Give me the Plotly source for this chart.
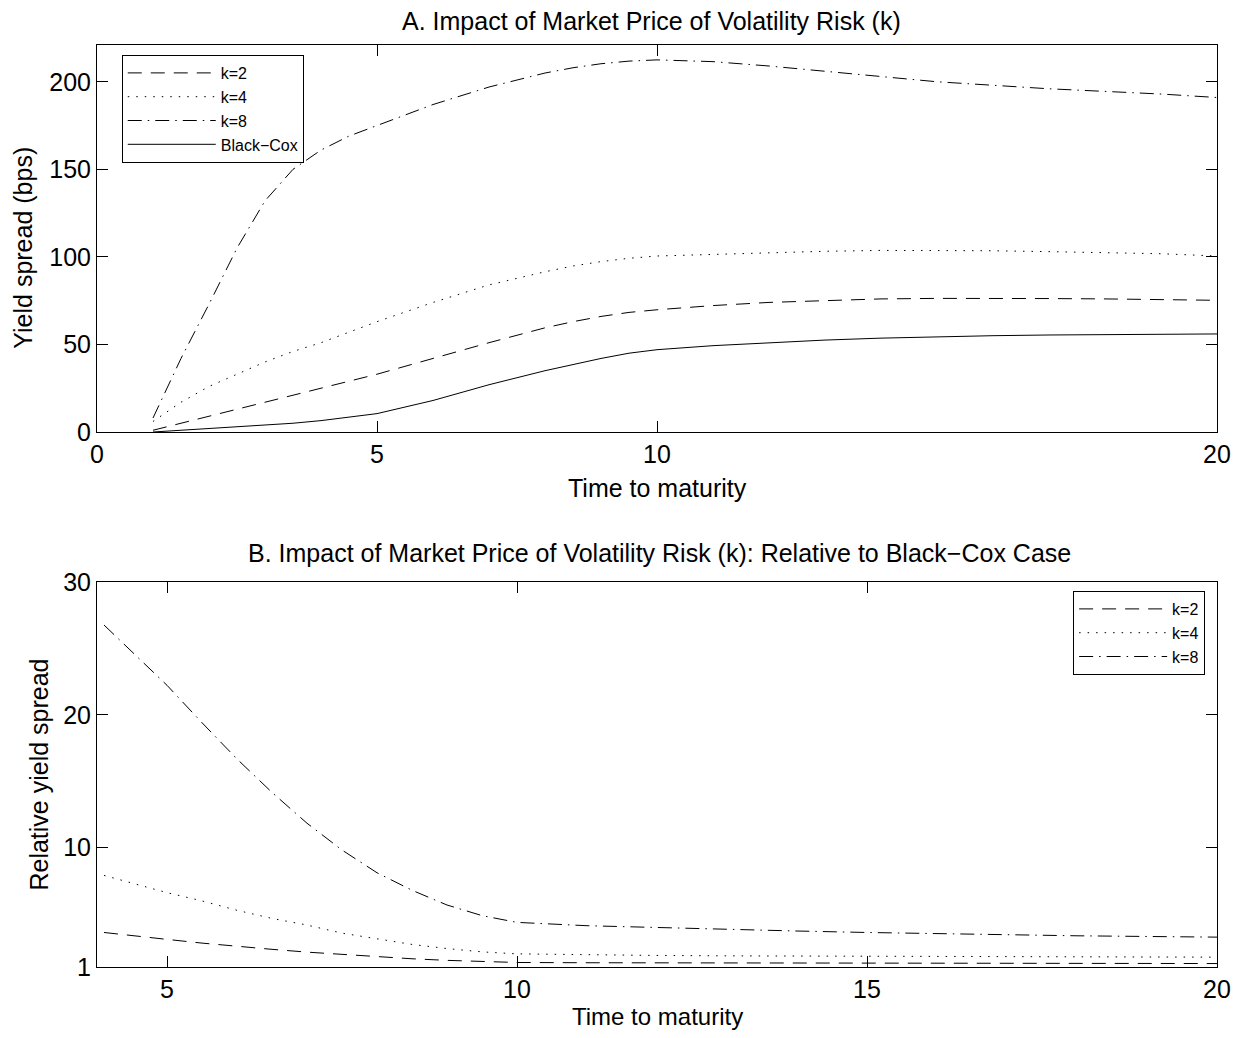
import plotly.graph_objects as go

# ---------- Panel A data (yield spread, bps) ----------
t_a = [1, 1.5, 2, 2.5, 3, 3.5, 4, 4.5, 5, 6, 7, 8, 8.5, 9, 9.5, 10, 11, 12, 13, 14, 15, 16, 17, 18, 19, 20]
a_k2 = [1, 5, 9, 13, 17, 21, 25, 29, 33, 42, 51, 59.5, 63, 66, 68.3, 69.8, 72.2, 74, 75.2, 76, 76.3, 76.4, 76.2, 76, 75.6, 75.2]
a_k4 = [6, 17, 26, 33, 40, 46, 51, 57, 63, 74, 84, 91.5, 94.8, 97.3, 99.2, 100.5, 101.5, 102.5, 103.2, 103.7, 103.8, 103.5, 103, 102.5, 101.8, 100.5]
a_k8 = [8, 42, 73, 105, 132, 150, 161, 169, 175, 187, 197, 205, 208, 210.3, 211.8, 212.5, 211.5, 209, 206, 203, 200, 198, 196, 194.5, 193, 191]
a_bc = [0, 1, 2, 3, 4, 5, 6.5, 8.3, 10.5, 18, 27, 35, 38.7, 42, 45, 47, 49.3, 51, 52.5, 53.6, 54.4, 55, 55.4, 55.6, 55.8, 56]

# ---------- Panel B data (relative yield spread) ----------
t_b = [4.1, 4.5, 5, 5.5, 6, 6.5, 7, 7.5, 8, 8.5, 9, 9.5, 10, 11, 12, 13, 14, 15, 16, 17, 18, 19, 20]
b_k2 = [3.6, 3.35, 3.08, 2.8, 2.55, 2.33, 2.12, 1.94, 1.76, 1.62, 1.5, 1.41, 1.34, 1.32, 1.31, 1.3, 1.3, 1.29, 1.29, 1.29, 1.28, 1.27, 1.26]
b_k4 = [7.9, 7.3, 6.6, 5.98, 5.27, 4.66, 4.16, 3.55, 3.1, 2.7, 2.39, 2.14, 1.99, 1.91, 1.87, 1.84, 1.82, 1.8, 1.79, 1.78, 1.77, 1.76, 1.74]
b_k8 = [26.76, 24.74, 22.22, 19.4, 16.67, 14.15, 11.83, 9.81, 8.1, 6.78, 5.67, 4.87, 4.36, 4.11, 3.96, 3.81, 3.71, 3.6, 3.5, 3.42, 3.35, 3.3, 3.25]

xticks_a = [0, 5, 10, 20]
yticks_a = [0, 50, 100, 150, 200]
xticks_b = [5, 10, 15, 20]
yticks_b = [1, 10, 20, 30]

FONT = "Liberation Sans, Arial, Helvetica, sans-serif"
DASH = "14px,9px"
DOT = "1.5px,7px"
DASHDOT = "14px,6px,1.5px,6px"

fig = go.Figure()

def add(x, y, name, dash, xa, ya, legend):
    fig.add_trace(go.Scatter(x=x, y=y, name=name, mode="lines",
                             line=dict(color="black", width=1, dash=dash),
                             xaxis=xa, yaxis=ya, legend=legend))

add(t_a, a_k2, "k=2", DASH, "x", "y", "legend")
add(t_a, a_k4, "k=4", DOT, "x", "y", "legend")
add(t_a, a_k8, "k=8", DASHDOT, "x", "y", "legend")
add(t_a, a_bc, "Black\u2212Cox", "solid", "x", "y", "legend")
add(t_b, b_k2, "k=2", DASH, "x2", "y2", "legend2")
add(t_b, b_k4, "k=4", DOT, "x2", "y2", "legend2")
add(t_b, b_k8, "k=8", DASHDOT, "x2", "y2", "legend2")

OFF = 8  # page body margin
W, H = 1251 - 2 * OFF, 1038 - 2 * OFF
L = 97 - OFF
T = 45 - OFF
R = W - (1228 - OFF)
B = H - (967 - OFF)
ph = H - T - B
pw = W - L - R

def py(ref_px):
    return (H - B - (ref_px - OFF)) / ph

def pxx(ref_px):
    return ((ref_px - OFF) - L) / pw

axis_common = dict(showline=True, linecolor="black", linewidth=1, mirror="allticks",
                   ticks="inside", ticklen=11, tickcolor="black", tickwidth=1,
                   showgrid=False, zeroline=False,
                   tickfont=dict(family=FONT, size=25, color="black"))

legend_common = dict(bordercolor="black", borderwidth=1, bgcolor="white",
                     font=dict(family=FONT, size=16, color="black"),
                     itemwidth=88, tracegroupgap=0)

fig.update_layout(
    width=W, height=H,
    margin=dict(l=L, r=R, t=T, b=B),
    paper_bgcolor="white", plot_bgcolor="white",
    font=dict(family=FONT, color="black"),
    xaxis=dict(domain=[0, 1], anchor="y", range=[0, 20], tickvals=xticks_a, **axis_common),
    yaxis=dict(domain=[py(432), 1], anchor="x", range=[0, 221], tickvals=yticks_a, **axis_common),
    xaxis2=dict(domain=[0, 1], anchor="y2", range=[4, 20], tickvals=xticks_b, **axis_common),
    yaxis2=dict(domain=[0, py(582)], anchor="x2", range=[1, 30], tickvals=yticks_b, **axis_common),
    legend=dict(x=pxx(122), y=py(55), xanchor="left", yanchor="top", **legend_common),
    legend2=dict(x=pxx(1216), y=py(591), xanchor="right", yanchor="top", **legend_common),
    showlegend=True,
)

def ann(text, x, y, size=25, angle=0):
    fig.add_annotation(text=text, x=x, y=y, xref="paper", yref="paper",
                       showarrow=False, textangle=angle,
                       xanchor="center", yanchor="middle",
                       font=dict(family=FONT, size=size, color="black"))

ann("A. Impact of Market Price of Volatility Risk (k)", pxx(657), py(21), size=25)
ann("B. Impact of Market Price of Volatility Risk (k): Relative to Black\u2212Cox Case", pxx(665), py(553))
ann("Time to maturity", pxx(663), py(488))
ann("Time to maturity", pxx(663), py(1016), size=24)
ann("Yield spread (bps)", pxx(22), py(248), angle=-90)
ann("Relative yield spread", pxx(38), py(775), angle=-90)

fig.write_html("out.html")
